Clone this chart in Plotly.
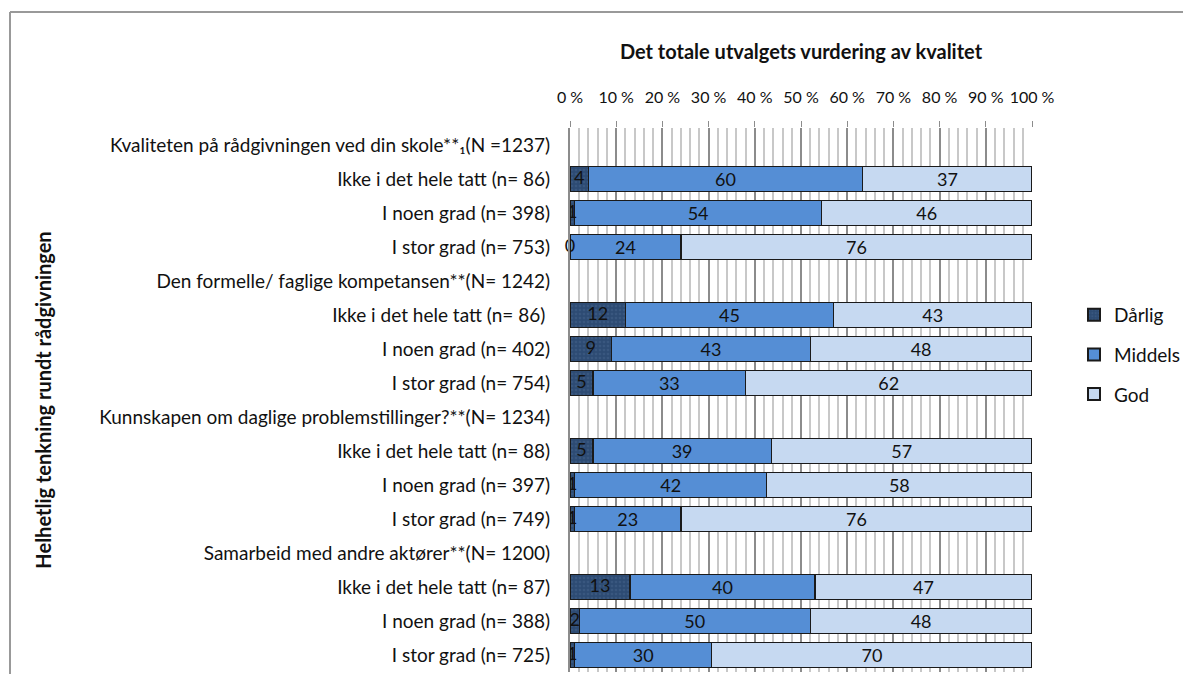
import plotly.graph_objects as go

categories = [
    "Kvaliteten på rådgivningen ved din skole**₁(N =1237)",
    "Ikke i det hele tatt (n= 86)",
    "I noen grad (n= 398)",
    "I stor grad (n= 753)",
    "Den formelle/ faglige kompetansen**(N= 1242)",
    "Ikke i det hele tatt (n= 86) ",
    "I noen grad (n= 402)",
    "I stor grad (n= 754)",
    "Kunnskapen om daglige problemstillinger?**(N= 1234)",
    "Ikke i det hele tatt (n= 88)",
    "I noen grad (n= 397)",
    "I stor grad (n= 749)",
    "Samarbeid med andre aktører**(N= 1200)",
    "Ikke i det hele tatt (n= 87)",
    "I noen grad (n= 388)",
    "I stor grad (n= 725)",
]

darlig = [None, 4, 1, 0, None, 12, 9, 5, None, 5, 1, 1, None, 13, 2, 1]
middels = [None, 60, 54, 24, None, 45, 43, 33, None, 39, 42, 23, None, 40, 50, 30]
god = [None, 37, 46, 76, None, 43, 48, 62, None, 57, 58, 76, None, 47, 48, 70]

tick_vals = [0, 10, 20, 30, 40, 50, 60, 70, 80, 90, 100]
tick_text = ["0 %", "10 %", "20 %", "30 %", "40 %", "50 %", "60 %", "70 %", "80 %", "90 %", "100 %"]

series = [
    ("Dårlig", darlig, "#2d4b73"),
    ("Middels", middels, "#558ed5"),
    ("God", god, "#c6d9f1"),
]

FONT = "Lato, 'Open Sans', sans-serif"
LABEL_SIZE = 19

# the page places the figure with an 8px body margin; size it so the page needs no scrollbars
W, H = 1175, 666
L, R, T, B = 562, 151, 120, 2
PW, PH = W - L - R, H - T - B

fig = go.Figure()
for name, vals, color in series:
    marker = dict(color=color, line=dict(color="#1a1a1a", width=1.3))
    if name == "Dårlig":
        marker["pattern"] = dict(shape=".", fgcolor="#46648c", bgcolor=color, size=4, solidity=0.35)
        texts = None
    else:
        texts = [("" if v is None else str(v)) for v in vals]
    fig.add_trace(go.Bar(
        name=name,
        legendgroup=name,
        y=categories,
        x=vals,
        orientation="h",
        marker=marker,
        text=texts,
        textposition="inside",
        insidetextanchor="middle",
        constraintext="none",
        textangle=0,
        textfont=dict(family=FONT, size=18, color="#111111"),
        hoverinfo="skip",
    ))

# Dårlig labels drawn on top (centre of the first, normalised segment)
d_x, d_y, d_t = [], [], []
for c, d, m, g in zip(categories, darlig, middels, god):
    if d is None:
        continue
    total = d + m + g
    d_x.append(d / total * 100 / 2)
    d_y.append(c)
    d_t.append(str(d))
fig.add_trace(go.Scatter(
    x=d_x, y=d_y, text=d_t, mode="text",
    textposition="middle center",
    textfont=dict(family=FONT, size=18, color="#111111"),
    showlegend=False, hoverinfo="skip", cliponaxis=False,
))

fig.update_layout(
    barmode="stack",
    barnorm="percent",
    bargap=0.26,
    width=W,
    height=H,
    margin=dict(l=L, r=R, t=T, b=B, autoexpand=False),
    paper_bgcolor="white",
    plot_bgcolor="white",
    font=dict(family=FONT, size=LABEL_SIZE, color="#111111"),
    uniformtext=dict(mode=False),
    legend=dict(
        xref="container",
        x=1066 / W, y=0.583, xanchor="left", yanchor="middle",
        font=dict(family=FONT, size=19, color="#111111"),
        itemsizing="constant",
        tracegroupgap=12,
        itemwidth=30,
        traceorder="grouped",
    ),
    xaxis=dict(
        side="top",
        range=[0, 100],
        tickvals=tick_vals,
        ticktext=tick_text,
        ticks="outside",
        ticklen=6,
        tickcolor="#8c8c8c",
        tickfont=dict(family=FONT, size=16, color="#111111"),
        ticklabelstandoff=12,
        showgrid=True,
        gridcolor="#8c8c8c",
        gridwidth=1.5,
        minor=dict(dtick=2, showgrid=True, gridcolor="#c8c8c8", gridwidth=1.5, ticks=""),
        zeroline=False,
        showline=False,
        automargin=False,
        title=dict(text="<b>Det totale utvalgets vurdering av kvalitet</b>",
                   font=dict(family=FONT, size=20, color="#111111"), standoff=21),
        fixedrange=True,
    ),
    yaxis=dict(
        categoryorder="array",
        categoryarray=categories,
        range=[len(categories) - 0.5, -0.5],
        tickfont=dict(family=FONT, size=LABEL_SIZE, color="#111111"),
        ticks="",
        ticklabelstandoff=14,
        showline=True,
        linecolor="#8c8c8c",
        linewidth=2,
        automargin=False,
        title=dict(text="<b>Helhetlig tenkning rundt rådgivningen</b>",
                   font=dict(family=FONT, size=20, color="#111111"), standoff=42),
        fixedrange=True,
    ),
)

# outer chart border (top and left edges visible)
bx, by = 2, 4
fig.add_shape(type="line", xref="paper", yref="paper",
              x0=(bx - L) / PW, x1=(W + 5 - L) / PW,
              y0=(T + PH - by) / PH, y1=(T + PH - by) / PH,
              line=dict(color="#999999", width=2))
fig.add_shape(type="line", xref="paper", yref="paper",
              x0=(bx - L) / PW, x1=(bx - L) / PW,
              y0=(T + PH - by) / PH, y1=(T + PH - H - 5) / PH,
              line=dict(color="#999999", width=2))

fig.write_html("out.html")
